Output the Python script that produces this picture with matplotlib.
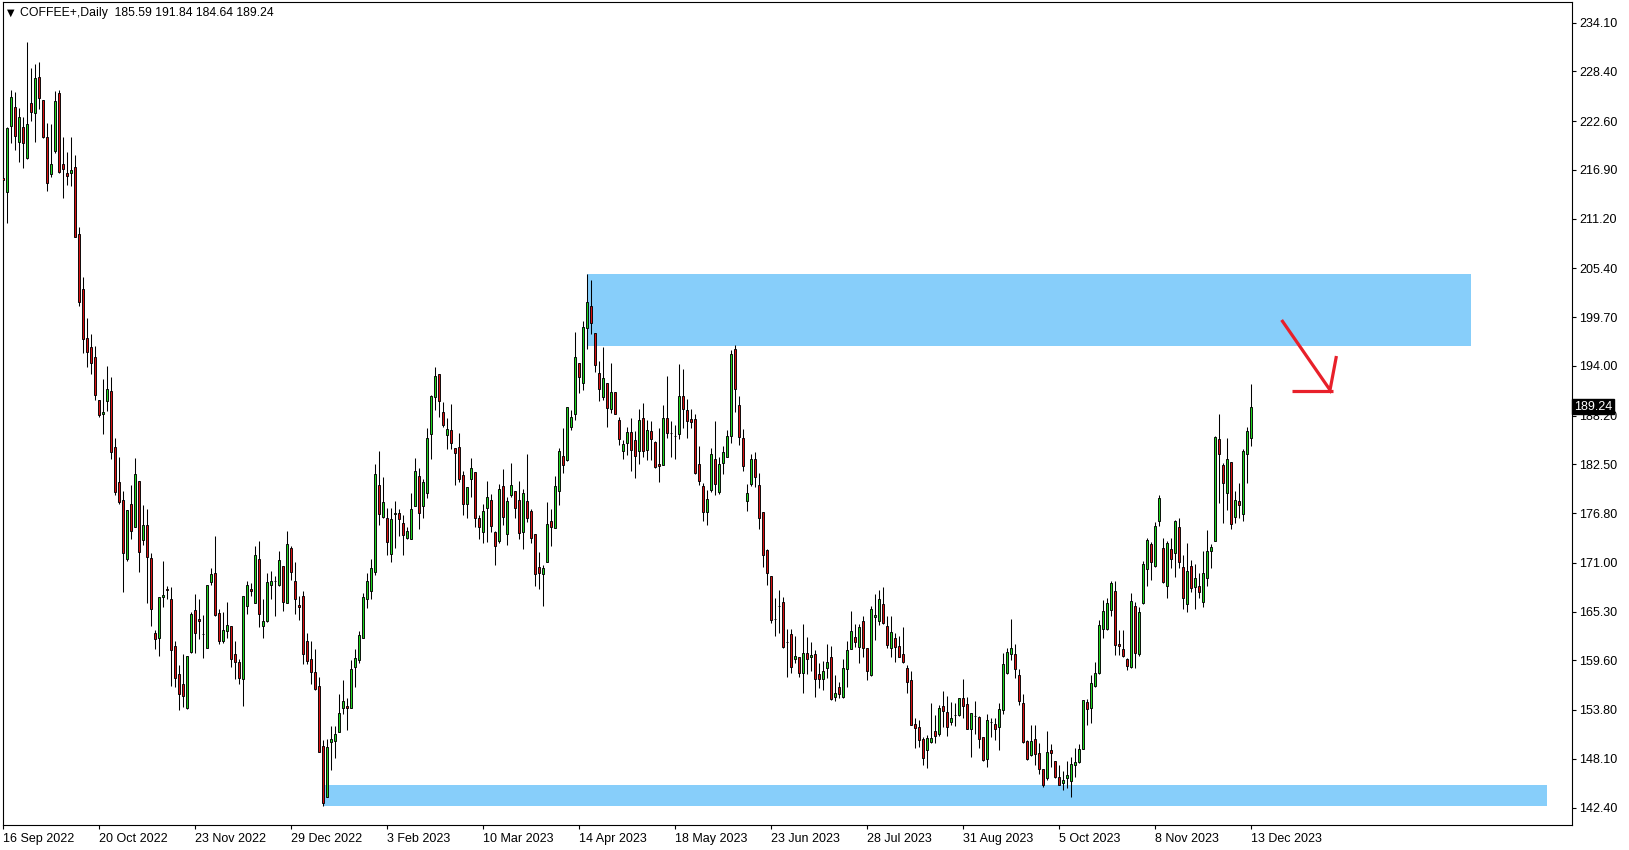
import matplotlib.pyplot as plt
import matplotlib.transforms as mtransforms
import numpy as np

# daily candles, COFFEE+ (bar 0 = 16 Sep 2022, bar 312 = 13 Dec 2023)
opens = [
    215.9, 214.27, 222.06, 224.2, 220.19, 221.86, 218.24, 224.67, 223.5, 227.7,
    225.06, 220.7, 216.37, 219.14, 225.84, 217.54, 216.57, 216.57, 217.19, 209.36,
    202.94, 197.26, 196.15, 195.0, 189.98, 188.41, 189.89, 191.09, 184.5, 180.39,
    178.34, 171.47, 177.92, 175.17, 180.52, 173.6, 175.37, 171.55, 162.83, 162.21,
    166.94, 167.9, 166.82, 161.3, 157.97, 156.86, 153.98, 160.56, 165.5, 164.47,
    162.7, 161.06, 168.79, 169.82, 165.09, 161.88, 163.03, 163.65, 160.28, 159.45,
    157.36, 165.91, 167.97, 166.32, 171.38, 163.65, 164.14, 168.38, 168.87, 168.38,
    170.64, 166.32, 172.7, 168.91, 166.12, 167.06, 161.88, 159.74, 158.18, 156.61,
    149.58, 143.62, 150.08, 150.2, 151.23, 154.06, 154.27, 154.06, 158.79, 159.66,
    162.21, 166.82, 167.64, 169.9, 180.1, 176.4, 176.2, 172.0, 176.7, 176.81,
    175.66, 173.93, 173.73, 177.64, 181.13, 177.64, 179.16, 186.07, 190.31, 193.06,
    188.62, 185.95, 186.48, 184.42, 184.55, 181.26, 177.84, 180.8, 181.63, 176.2,
    174.55, 177.35, 178.34, 174.55, 173.52, 179.98, 174.35, 178.87, 179.36, 178.34,
    174.55, 178.25, 177.1, 174.35, 170.56, 169.74, 171.05, 175.87, 175.04, 179.36,
    183.48, 182.98, 186.81, 188.33, 194.3, 191.95, 198.38, 200.99, 197.79, 193.14,
    190.39, 192.03, 188.95, 191.0, 187.71, 184.01, 185.04, 186.27, 185.37, 184.09,
    187.92, 184.14, 186.4, 185.12, 182.49, 182.37, 187.92, 186.19, 185.86, 186.07,
    190.47, 188.87, 187.84, 187.84, 182.57, 179.95, 176.94, 179.49, 183.07, 179.28,
    182.7, 183.31, 185.8, 195.95, 189.4, 185.62, 178.2, 180.2, 183.09, 180.09,
    176.97, 172.49, 169.49, 164.4, 166.0, 166.38, 161.78, 162.64, 159.72, 159.95,
    158.09, 160.42, 159.95, 160.31, 157.97, 157.38, 158.67, 159.95, 155.36, 156.45,
    155.36, 158.55, 160.93, 162.29, 161.12, 164.2, 161.08, 157.89, 164.63, 164.2,
    166.14, 163.66, 161.08, 162.17, 161.32, 160.31, 158.67, 157.31, 152.13, 151.86,
    150.38, 149.13, 150.03, 151.35, 150.96, 154.27, 153.53, 152.44, 153.22, 153.22,
    155.17, 154.47, 151.54, 153.1, 152.95, 150.61, 148.04, 152.36, 152.13, 151.86,
    153.8, 158.08, 160.31, 160.31, 157.89, 154.58, 150.18, 148.54, 150.41, 148.74,
    146.87, 145.9, 149.13, 147.84, 145.93, 145.23, 145.9, 145.54, 147.38, 147.77,
    149.21, 154.77, 154.0, 156.64, 158.08, 163.22, 163.22, 165.48, 167.7, 161.47,
    160.89, 159.72, 158.86, 165.95, 160.34, 166.26, 170.23, 173.15, 170.66, 175.92,
    172.69, 168.32, 172.57, 172.1, 175.22, 170.54, 166.14, 170.66, 168.13, 168.29,
    166.46, 169.26, 172.41, 173.58, 185.42, 182.42, 179.11, 182.81, 176.31, 178.26,
    176.66, 183.67, 185.59,
]
highs = [
    216.6, 221.94, 226.23, 225.95, 224.08, 223.11, 231.79, 228.76, 229.26, 229.46,
    225.1, 222.33, 222.22, 226.15, 226.23, 220.77, 219.02, 220.77, 218.63, 210.26,
    204.34, 199.56, 197.67, 196.35, 189.98, 192.44, 193.97, 192.65, 185.53, 183.4,
    179.36, 177.14, 180.1, 183.27, 180.52, 177.72, 177.22, 172.08, 163.2, 166.94,
    171.18, 168.3, 168.17, 161.88, 159.04, 160.28, 160.15, 165.21, 167.35, 166.82,
    164.88, 168.38, 170.35, 174.14, 165.58, 165.3, 166.4, 163.65, 161.8, 159.74,
    167.06, 168.87, 168.58, 172.9, 173.52, 166.82, 169.82, 170.03, 169.4, 172.41,
    170.64, 174.67, 172.99, 171.05, 167.15, 167.64, 162.83, 161.8, 160.98, 157.68,
    150.28, 150.36, 151.93, 151.93, 155.71, 157.27, 155.22, 159.62, 160.98, 163.03,
    167.47, 169.82, 171.38, 182.57, 184.01, 181.05, 177.43, 177.35, 178.25, 177.22,
    176.52, 175.17, 179.16, 183.27, 182.08, 180.8, 186.69, 190.59, 193.88, 193.06,
    189.77, 187.92, 189.57, 184.42, 186.15, 181.67, 179.9, 183.19, 181.63, 176.61,
    177.92, 180.52, 179.0, 174.76, 180.19, 181.95, 178.66, 182.7, 179.36, 180.52,
    179.57, 183.72, 177.22, 174.35, 172.21, 170.77, 178.05, 177.31, 181.13, 184.42,
    186.69, 189.24, 188.82, 197.92, 194.3, 199.24, 204.73, 204.03, 197.8, 194.58,
    196.15, 192.03, 194.38, 191.0, 188.04, 185.33, 186.81, 187.92, 186.36, 188.95,
    189.69, 187.71, 187.59, 185.25, 186.69, 189.48, 192.77, 187.51, 187.1, 194.17,
    193.6, 190.1, 188.95, 188.33, 184.63, 180.3, 179.49, 184.42, 187.59, 183.4,
    184.63, 186.48, 195.9, 196.43, 190.5, 186.6, 180.25, 183.71, 183.9, 181.45,
    176.97, 172.61, 169.49, 166.85, 167.82, 167.04, 163.26, 163.26, 162.45, 160.03,
    163.85, 162.29, 161.71, 160.81, 159.25, 159.56, 161.47, 161.32, 157.89, 157.11,
    159.72, 161.9, 165.37, 163.81, 163.85, 164.78, 161.08, 165.99, 167.35, 167.82,
    168.13, 164.82, 164.78, 162.84, 162.45, 163.46, 159.06, 158.36, 152.83, 152.64,
    150.69, 150.88, 154.58, 153.22, 154.39, 156.02, 155.44, 154.78, 154.58, 155.17,
    157.4, 155.28, 153.41, 154.86, 153.1, 150.61, 153.34, 152.83, 152.83, 154.58,
    160.42, 161.0, 164.39, 161.47, 158.55, 155.67, 150.3, 152.05, 152.05, 149.98,
    146.87, 151.35, 149.83, 147.84, 147.38, 146.71, 147.84, 148.27, 149.32, 149.79,
    154.97, 155.05, 157.89, 159.37, 164.31, 166.65, 166.85, 168.91, 168.87, 163.15,
    163.15, 159.83, 167.43, 166.46, 165.87, 171.24, 173.86, 173.47, 175.8, 178.92,
    173.86, 173.54, 173.86, 176.0, 176.19, 171.91, 173.35, 171.32, 170.85, 169.77,
    172.38, 174.83, 173.19, 185.81, 188.34, 182.62, 185.54, 182.81, 179.38, 180.28,
    184.26, 186.82, 191.84,
]
lows = [
    211.2, 210.73, 220.0, 219.22, 217.85, 217.08, 218.17, 222.64, 220.19, 223.97,
    220.66, 214.47, 216.1, 218.9, 216.57, 213.65, 215.13, 215.01, 209.0, 200.96,
    195.53, 193.88, 193.06, 189.98, 188.0, 185.99, 188.74, 183.11, 178.87, 177.84,
    167.56, 171.26, 173.73, 175.17, 169.9, 173.11, 166.24, 163.57, 160.98, 160.15,
    165.79, 166.8, 156.57, 156.45, 153.78, 154.19, 153.86, 160.44, 160.44, 162.13,
    159.87, 161.06, 168.38, 164.8, 161.47, 161.59, 162.21, 158.84, 157.36, 156.86,
    154.27, 164.97, 167.15, 166.32, 163.53, 162.21, 164.06, 166.82, 164.8, 168.3,
    165.38, 166.32, 169.0, 164.97, 164.35, 159.12, 159.21, 156.86, 156.12, 148.92,
    142.6, 143.62, 146.78, 148.14, 151.23, 153.37, 151.51, 154.06, 156.45, 159.33,
    162.21, 165.71, 166.74, 169.6, 175.37, 176.28, 171.88, 171.05, 172.7, 174.14,
    171.88, 173.73, 173.73, 177.64, 174.96, 176.28, 178.54, 183.11, 188.82, 188.0,
    186.89, 184.34, 184.3, 180.1, 180.39, 176.52, 176.2, 178.66, 175.17, 173.73,
    173.32, 173.4, 174.55, 170.77, 173.32, 175.37, 173.11, 178.66, 176.28, 173.73,
    172.58, 175.78, 173.32, 168.3, 167.89, 165.91, 171.05, 172.9, 175.04, 177.72,
    181.54, 182.86, 186.56, 187.72, 190.8, 191.21, 195.94, 197.67, 193.27, 189.85,
    190.06, 186.89, 188.45, 188.33, 184.75, 183.11, 183.6, 181.75, 180.93, 182.57,
    183.4, 182.98, 182.98, 182.04, 180.39, 182.37, 185.58, 183.31, 183.11, 185.45,
    186.69, 185.53, 186.69, 181.34, 180.1, 175.85, 175.37, 179.28, 178.87, 178.99,
    181.34, 183.31, 185.0, 188.64, 184.76, 181.7, 177.05, 179.97, 179.81, 174.91,
    170.47, 168.41, 163.93, 162.49, 162.84, 161.08, 157.7, 158.16, 159.33, 157.7,
    155.75, 158.01, 158.4, 155.36, 156.33, 156.14, 157.5, 154.97, 154.89, 155.17,
    155.17, 156.45, 160.93, 161.2, 159.25, 159.95, 157.31, 157.78, 161.98, 163.73,
    163.85, 161.01, 159.95, 159.37, 159.95, 159.25, 155.83, 152.05, 149.33, 149.52,
    147.38, 147.07, 149.99, 149.91, 150.81, 151.86, 150.77, 152.05, 151.93, 153.1,
    152.91, 151.54, 148.35, 150.96, 149.33, 147.84, 147.18, 150.69, 150.3, 149.13,
    153.3, 158.0, 159.64, 157.5, 154.38, 149.98, 147.96, 148.43, 147.38, 146.32,
    144.84, 145.62, 147.11, 145.82, 145.04, 144.45, 144.65, 143.6, 146.0, 147.65,
    149.21, 152.05, 152.32, 156.53, 158.0, 162.17, 163.15, 164.82, 160.23, 160.23,
    159.95, 158.47, 158.75, 158.67, 160.11, 166.18, 168.29, 168.99, 170.54, 175.34,
    168.6, 166.85, 170.35, 169.3, 170.35, 165.56, 165.21, 167.63, 165.56, 166.85,
    165.87, 168.32, 170.35, 173.58, 177.94, 175.68, 177.16, 174.91, 175.61, 176.19,
    175.92, 180.28, 184.64,
]
closes = [
    215.7, 221.75, 225.45, 220.89, 223.03, 220.0, 222.22, 223.62, 227.59, 225.25,
    220.77, 215.4, 217.54, 224.94, 216.69, 216.96, 216.22, 216.88, 209.09, 201.5,
    197.18, 195.65, 194.3, 190.59, 188.25, 188.66, 191.33, 183.93, 179.28, 178.05,
    172.08, 177.14, 174.67, 181.42, 172.29, 175.37, 171.67, 165.62, 162.13, 166.94,
    167.23, 167.8, 160.77, 157.56, 155.63, 155.42, 160.15, 164.97, 162.83, 164.14,
    162.7, 168.38, 169.7, 164.88, 161.88, 163.16, 163.77, 159.74, 159.45, 157.48,
    167.06, 168.38, 167.64, 171.88, 164.97, 164.14, 168.71, 168.91, 168.87, 171.34,
    166.45, 173.19, 169.9, 166.82, 165.79, 160.36, 159.54, 158.18, 156.25, 148.92,
    142.9, 149.46, 150.36, 150.98, 153.45, 154.81, 153.98, 158.63, 159.86, 162.5,
    166.94, 168.91, 170.35, 181.42, 176.69, 178.05, 173.4, 176.11, 176.8, 176.11,
    174.22, 174.67, 177.31, 181.67, 176.81, 180.43, 185.58, 190.51, 192.86, 189.89,
    187.1, 186.6, 185.04, 183.81, 180.84, 177.92, 179.9, 182.08, 176.2, 175.17,
    177.02, 178.66, 175.29, 172.9, 179.61, 176.4, 178.25, 180.1, 177.43, 174.43,
    179.2, 176.2, 173.85, 169.74, 169.82, 170.35, 175.5, 175.17, 179.98, 184.01,
    182.45, 189.24, 188.0, 195.04, 192.73, 198.58, 201.42, 198.97, 194.09, 191.29,
    192.53, 189.07, 191.0, 188.41, 185.45, 184.83, 186.27, 184.22, 183.52, 187.71,
    184.09, 186.48, 185.45, 182.16, 182.29, 187.92, 186.15, 186.19, 185.86, 190.51,
    188.95, 187.51, 187.43, 181.54, 180.52, 176.95, 178.46, 183.72, 180.23, 182.49,
    183.89, 185.86, 195.33, 191.33, 185.7, 182.3, 179.1, 183.09, 181.06, 176.19,
    171.91, 169.77, 164.32, 164.4, 166.0, 161.2, 161.7, 158.86, 160.15, 158.09,
    160.5, 159.72, 160.23, 157.38, 157.38, 158.4, 159.45, 155.05, 155.75, 155.63,
    158.67, 160.81, 163.03, 161.78, 163.46, 161.01, 158.36, 165.6, 164.9, 166.73,
    163.97, 161.39, 162.87, 161.2, 160.03, 159.37, 157.03, 152.05, 151.66, 150.3,
    148.16, 150.49, 150.49, 150.81, 154.0, 153.73, 151.86, 152.83, 153.22, 155.17,
    154.31, 151.54, 153.41, 153.1, 150.38, 147.96, 152.64, 152.36, 151.54, 153.88,
    159.13, 160.54, 161.0, 158.55, 154.89, 150.1, 148.07, 150.18, 148.62, 146.87,
    145.04, 148.93, 148.74, 146.0, 145.04, 145.62, 146.2, 147.45, 147.69, 149.24,
    154.97, 153.88, 156.91, 158.16, 163.73, 165.4, 166.26, 168.6, 161.39, 161.32,
    160.15, 158.98, 166.53, 160.42, 165.21, 170.81, 173.66, 171.13, 175.3, 178.53,
    168.79, 173.27, 171.4, 175.88, 171.05, 166.85, 170.04, 168.01, 169.26, 167.55,
    169.77, 172.41, 172.8, 185.65, 183.67, 180.28, 183.08, 175.53, 178.33, 177.75,
    184.06, 186.39, 189.24,
]

# x axis: a label every 24 bars
date_labels = ['16 Sep 2022', '20 Oct 2022', '23 Nov 2022', '29 Dec 2022',
               '3 Feb 2023', '10 Mar 2023', '14 Apr 2023', '18 May 2023',
               '23 Jun 2023', '28 Jul 2023', '31 Aug 2023', '5 Oct 2023',
               '8 Nov 2023', '13 Dec 2023']
bars_per_label = 24

price_ticks = [234.10, 228.40, 222.60, 216.90, 211.20, 205.40, 199.70, 194.00,
               188.20, 182.50, 176.80, 171.00, 165.30, 159.60, 153.80, 148.10, 142.40]
last_price = 189.24

# zones drawn on the chart: (first bar, last bar, low price, high price)
supply_zone = (146, 366.9, 196.3, 204.73)
demand_zone = (80, 385.9, 142.6, 145.04)

# hand drawn red arrow (bar, price)
arrow_shaft_x = [319.6, 331.7, 333.3]
arrow_shaft_y = [199.36, 191.18, 195.15]
arrow_base_x = [322.2, 332.5]
arrow_base_y = [191.03, 191.03]

font = 'Liberation Sans'
green = '#1ED41E'
red = '#D81010'
zone_blue = '#87CEFA'

fig = plt.figure(figsize=(16.29, 8.5), dpi=100)
ax = fig.add_axes([2.5 / 1629, 25 / 850, 1569.5 / 1629, 823 / 850])

o = np.array(opens)
h = np.array(highs)
l = np.array(lows)
c = np.array(closes)
x = np.arange(len(o))
up = c >= o

# zones
for x0, x1, y0, y1 in (supply_zone, demand_zone):
    ax.fill_between([x0, x1], y0, y1, color=zone_blue, lw=0, zorder=1)

# candles
ax.vlines(x, l, h, color='black', lw=0.75, zorder=2)
ax.bar(x, np.abs(c - o), bottom=np.minimum(o, c), width=0.58,
       color=np.where(up, green, red), edgecolor='black', lw=0.65, zorder=3)

# arrow
ax.plot(arrow_shaft_x, arrow_shaft_y, color='#E8202A', lw=2.3, zorder=4,
        solid_capstyle='butt', solid_joinstyle='miter')
ax.plot(arrow_base_x, arrow_base_y, color='#E8202A', lw=2.3, zorder=4,
        solid_capstyle='butt')

ax.set_xlim(-0.2, 392.2)
ax.set_ylim(140.36, 236.51)

# axes / ticks
for s in ax.spines.values():
    s.set_color('black')
    s.set_linewidth(0.8)

ax.yaxis.tick_right()
ax.set_yticks(price_ticks)
ax.set_yticklabels(['%.2f' % v for v in price_ticks], fontfamily=font, fontsize=9)
ax.set_xticks(np.arange(len(date_labels)) * bars_per_label)
ax.set_xticklabels(date_labels, ha='left', fontfamily=font, fontsize=9)
ax.tick_params(axis='both', direction='out', length=3, width=0.8, pad=2, colors='black')
ax.tick_params(axis='x', pad=3)

# current price box
trans = mtransforms.blended_transform_factory(ax.transAxes, ax.transData)
ax.text(1.0012, last_price, '%.2f' % last_price, transform=trans, color='white',
        fontfamily=font, fontsize=9, va='center', ha='left', zorder=10, clip_on=False,
        bbox=dict(facecolor='black', edgecolor='black', pad=1.2))

# header
fig.text(6.5 / 1629, 1 - 12.5 / 850, '\u25BC', fontsize=7, va='center', ha='left',
         color='black', fontfamily='DejaVu Sans')
fig.text(20.5 / 1629, 1 - 13 / 850,
         'COFFEE+,Daily  %.2f %.2f %.2f %.2f' % (opens[-1], highs[-1], lows[-1], closes[-1]),
         fontsize=8.8, va='center', ha='left', color='black', fontfamily=font)

fig.savefig('out.png', dpi=100, facecolor='white')
